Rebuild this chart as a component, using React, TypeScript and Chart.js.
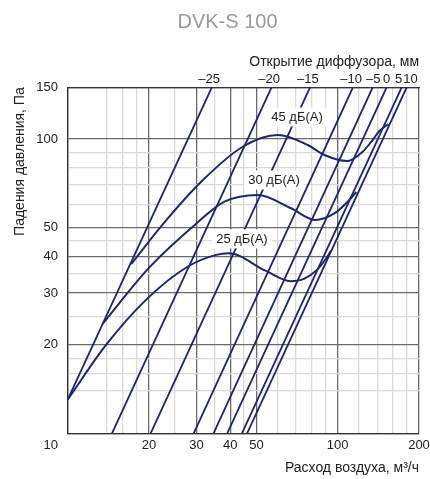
import React, { useEffect, useRef } from 'react';
import { Chart, registerables } from 'chart.js';

Chart.register(...registerables);

const FONT = '"Liberation Sans", Arial, Helvetica, sans-serif';

const TITLE = 'DVK-S 100';
const X_TITLE = 'Расход воздуха, м³/ч';
const Y_TITLE = 'Падения давления, Па';
const TOP_TITLE = 'Открытие диффузора, мм';

// grid / tick values
const X_GRID = [10, 14, 16, 18, 20, 25, 30, 35, 40, 45, 50, 60, 70, 80, 90, 100, 120, 140, 160, 180, 200];
const X_MAJOR = [10, 20, 30, 40, 50, 100, 200];
const X_LABELED = [20, 30, 40, 50, 100, 200];
const Y_GRID = [10, 14, 16, 18, 20, 25, 30, 35, 40, 45, 50, 60, 70, 80, 90, 100, 150];
const Y_MAJOR = [10, 20, 30, 40, 50, 100, 150];
const Y_LABELED = [20, 30, 40, 50, 100, 150];
const CORNER_LABEL = '10';

// diffuser opening lines (top axis)
const OPENINGS = ['–25', '–20', '–15', '–10', '–5', '0', '5', '10'];
const OPENING_LABEL_Q = [33.4, 55.7, 77.6, 112.1, 135.3, 151.8, 168.0, 186.0];
const LINE_Q = [
  [10, 34.2],
  [14.6, 56.9],
  [20.3, 79.0],
  [29.3, 113.9],
  [34.7, 134.8],
  [39.0, 151.8],
  [44.2, 172.6],
  [46.2, 180.1],
];
const LINE_P = [
  [13.0, 150],
  [10, 150],
  [10, 150],
  [10, 150],
  [10, 150],
  [10, 150],
  [10, 150],
  [10, 150],
];

// sound level curves
const DB_LABELS = ['25 дБ(А)', '30 дБ(А)', '45 дБ(А)'];
const DB25_Q = [10, 13.9, 19.8, 27.9, 35.5, 39.5, 54, 66.9, 75, 84, 91, 94.5];
const DB25_P = [13.0, 20.0, 28.8, 36.9, 40.4, 40.9, 35.7, 32.9, 33.5, 36.0, 39.5, 41.8];
const DB30_Q = [13.5, 20, 30, 38.1, 50.6, 67.2, 82.7, 97.2, 108.9, 117.3];
const DB30_P = [23.6, 36.5, 51.7, 61.3, 64.6, 58.2, 53.1, 55.9, 61.3, 66.1];
const DB45_Q = [17.2, 22.9, 31.7, 44.5, 60, 77.4, 89.3, 108.6, 123.7, 134.7, 142.6, 154];
const DB45_P = [37.6, 52.3, 72.6, 94.2, 103.2, 95.5, 88.3, 84.3, 90.6, 99.3, 106.5, 112.5];
const DB_LABEL_Q = [44.2, 58.1, 70.7];
const DB_LABEL_P = [45.8, 72.6, 118.9];

const NAVY = '#1d2670';
const MAJOR = '#6a6a6a';
const MINOR = '#dadada';
const BORDER = '#333333';
const TEXT = '#222222';

const overlay = {
  id: 'overlay',
  afterDatasetsDraw(chart: any) {
    const ctx = chart.ctx;
    const xs = chart.scales.x;
    const ys = chart.scales.y;
    ctx.save();
    ctx.font = `13px ${FONT}`;
    ctx.textAlign = 'center';
    ctx.textBaseline = 'middle';
    DB_LABELS.forEach((t, i) => {
      const x = xs.getPixelForValue(DB_LABEL_Q[i]);
      const y = ys.getPixelForValue(DB_LABEL_P[i]);
      const w = ctx.measureText(t).width + 8;
      const h = 19;
      ctx.fillStyle = '#ffffff';
      ctx.fillRect(x - w / 2, y - h / 2, w, h);
      ctx.fillStyle = TEXT;
      ctx.fillText(t, x, y + 0.5);
    });
    ctx.restore();
  },
  afterDraw(chart: any) {
    const ctx = chart.ctx;
    const area = chart.chartArea;
    ctx.save();
    ctx.font = `20px ${FONT}`;
    ctx.fillStyle = '#9a9a9a';
    ctx.textAlign = 'center';
    ctx.textBaseline = 'alphabetic';
    ctx.fillText(TITLE, 227.5, 28);
    ctx.font = `13px ${FONT}`;
    ctx.fillStyle = TEXT;
    ctx.textAlign = 'right';
    ctx.textBaseline = 'middle';
    ctx.fillText(CORNER_LABEL, area.left - 9.6, area.bottom + 4 + 7.8);
    ctx.restore();
  },
};

export default function App() {
  const ref = useRef<HTMLCanvasElement>(null);

  useEffect(() => {
    const canvas = ref.current;
    if (!canvas) return;
    Chart.defaults.font.family = FONT;

    const datasets: any[] = [];
    LINE_Q.forEach((qs, i) => {
      datasets.push({
        data: qs.map((q, j) => ({ x: q, y: LINE_P[i][j] })),
        borderColor: NAVY,
        borderWidth: 1.8,
        tension: 0,
        pointRadius: 0,
        fill: false,
      });
    });
    [
      [DB25_Q, DB25_P],
      [DB30_Q, DB30_P],
      [DB45_Q, DB45_P],
    ].forEach(([qs, ps]) => {
      datasets.push({
        data: qs.map((q, j) => ({ x: q, y: ps[j] })),
        borderColor: NAVY,
        borderWidth: 2,
        cubicInterpolationMode: 'monotone',
        pointRadius: 0,
        fill: false,
      });
    });

    const chart = new Chart(canvas, {
      type: 'line',
      data: { datasets },
      options: {
        animation: false,
        responsive: false,
        devicePixelRatio: 1,
        layout: { padding: { left: 0, right: 11, top: 0, bottom: 0 } },
        plugins: {
          legend: { display: false },
          tooltip: { enabled: false },
          title: { display: false },
        },
        scales: {
          x: {
            type: 'logarithmic',
            position: 'bottom',
            min: 10,
            max: 200,
            afterBuildTicks: (s: any) => {
              s.ticks = X_GRID.map((v) => ({ value: v }));
            },
            afterFit: (s: any) => {
              s.height = 45.7;
              s.paddingLeft = 0;
              s.paddingRight = 0;
            },
            ticks: {
              autoSkip: false,
              maxRotation: 0,
              minRotation: 0,
              padding: 4,
              color: TEXT,
              font: { size: 13 },
              callback: (v: any) => (X_LABELED.includes(Number(v)) ? String(v) : ''),
            },
            grid: {
              drawTicks: false,
              color: (c: any) => (X_MAJOR.includes(c.tick?.value) ? MAJOR : MINOR),
              lineWidth: 1.3,
            },
            border: { display: true, color: BORDER, width: 1.3 },
            title: {
              display: true,
              text: X_TITLE,
              align: 'end',
              color: TEXT,
              font: { size: 14 },
              padding: { top: 0, bottom: 2.6 },
            },
          },
          x2: {
            type: 'logarithmic',
            position: 'top',
            min: 10,
            max: 200,
            afterBuildTicks: (s: any) => {
              s.ticks = OPENING_LABEL_Q.map((v) => ({ value: v }));
            },
            afterFit: (s: any) => {
              s.height = 87.3;
              s.paddingLeft = 0;
              s.paddingRight = 0;
            },
            ticks: {
              autoSkip: false,
              maxRotation: 0,
              minRotation: 0,
              padding: 0.5,
              color: TEXT,
              font: { size: 13 },
              callback: (_v: any, i: number) => OPENINGS[i],
            },
            grid: { display: false, drawTicks: false },
            border: { display: true, color: BORDER, width: 1.3 },
            title: {
              display: true,
              text: TOP_TITLE,
              align: 'end',
              color: TEXT,
              font: { size: 14 },
              padding: { top: 53.6, bottom: 0 },
            },
          },
          y: {
            type: 'logarithmic',
            position: 'left',
            min: 10,
            max: 150,
            afterBuildTicks: (s: any) => {
              s.ticks = Y_GRID.map((v) => ({ value: v }));
            },
            afterFit: (s: any) => {
              s.width = 67.6;
              s.paddingTop = 0;
              s.paddingBottom = 0;
            },
            ticks: {
              autoSkip: false,
              padding: 9.6,
              color: TEXT,
              font: { size: 13 },
              callback: (v: any) => (Y_LABELED.includes(Number(v)) ? String(v) : ''),
            },
            grid: {
              drawTicks: false,
              color: (c: any) => (Y_MAJOR.includes(c.tick?.value) ? MAJOR : MINOR),
              lineWidth: 1.3,
            },
            border: { display: true, color: BORDER, width: 1.3 },
            title: {
              display: true,
              text: Y_TITLE,
              align: 'end',
              color: TEXT,
              font: { size: 14 },
              padding: { top: 11.6, bottom: 0 },
            },
          },
        },
      } as any,
      plugins: [overlay],
    });

    return () => chart.destroy();
  }, []);

  return (
    <div style={{ position: 'absolute', left: 0, top: 0, width: 430, height: 479 }}>
      <canvas ref={ref} width={430} height={479} style={{ display: 'block' }} />
    </div>
  );
}
